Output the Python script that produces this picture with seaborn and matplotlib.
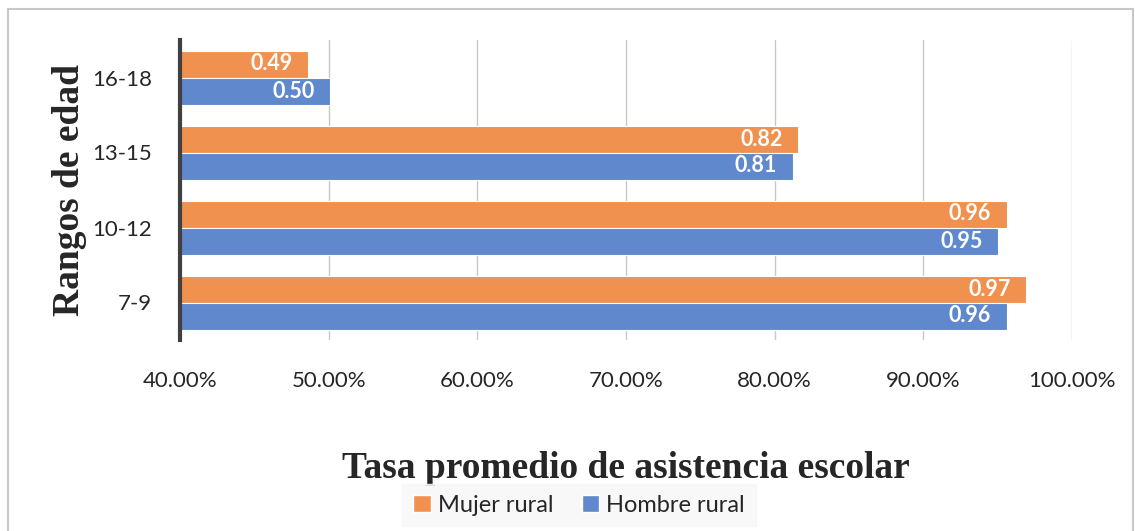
import matplotlib
matplotlib.use('Agg')
import matplotlib.pyplot as plt
import matplotlib.patches as mpatches
from matplotlib.ticker import FuncFormatter
import seaborn as sns
import pandas as pd

rangos = ['16-18', '13-15', '10-12', '7-9']
mujer = [0.486, 0.816, 0.956, 0.969]
hombre = [0.501, 0.812, 0.950, 0.956]
series = ['Mujer rural', 'Hombre rural']
colores = ['#F0914F', '#5F88CD']

df = pd.DataFrame({
    'rango': rangos * 2,
    'tasa': mujer + hombre,
    'grupo': [series[0]] * 4 + [series[1]] * 4,
})

sns.set_style('white')
plt.rcParams['font.family'] = ['Lato', 'DejaVu Sans']

fig = plt.figure(figsize=(11.35, 5.31), dpi=100)
ax = fig.add_axes([180/1135, 1-340/531, 892/1135, 300/531])

sns.barplot(data=df, x='tasa', y='rango', hue='grupo', order=rangos,
            hue_order=series, palette=colores, orient='h', width=0.72,
            edgecolor='white', linewidth=0.8, saturation=1, ax=ax)

ax.set_xlim(0.4, 1.0)
ax.set_ylim(3.5, -0.5)
ax.set_xticks([0.4, 0.5, 0.6, 0.7, 0.8, 0.9, 1.0])
ax.xaxis.set_major_formatter(FuncFormatter(lambda v, p: f'{v*100:.2f}%'))
ax.tick_params(axis='x', length=0, pad=22, labelsize=16)
ax.tick_params(axis='y', length=0, pad=20, labelsize=16)
ax.grid(axis='x', color='#C8C8C8', linewidth=1)
ax.set_axisbelow(True)
for s in ['top', 'right', 'bottom']:
    ax.spines[s].set_visible(False)
ax.spines['left'].set_color('#404040')
ax.spines['left'].set_linewidth(3)
ax.spines['left'].set_zorder(5)

for cont in ax.containers:
    for bar, v in zip(cont, cont.datavalues):
        ax.annotate(f'{v:.2f}', xy=(bar.get_x() + bar.get_width(),
                                    bar.get_y() + bar.get_height() / 2),
                    xytext=(-11, 0), textcoords='offset points',
                    ha='right', va='center', color='white',
                    fontsize=15.5, fontweight='bold')

ax.set_xlabel('')
ax.set_ylabel('Rangos de edad', family='Liberation Serif', fontweight='bold',
              fontsize=27, labelpad=4)
ax.get_legend().remove()

fig.text(626/1135, 1-468/531, 'Tasa promedio de asistencia escolar',
         family='Liberation Serif', fontweight='bold', fontsize=27,
         ha='center', va='center')

handles = [mpatches.Patch(facecolor=c, edgecolor='white', label=l)
           for c, l in zip(colores, series)]
leg = fig.legend(handles=handles, loc='upper center', ncol=2,
                 bbox_to_anchor=(579/1135, 1-484/531), frameon=True,
                 fontsize=17, handlelength=0.75, handleheight=0.75,
                 handletextpad=0.3, columnspacing=1.2, borderpad=0.45,
                 borderaxespad=0)
leg.get_frame().set_facecolor('#F7F7F7')
leg.get_frame().set_edgecolor('#F7F7F7')
leg.get_frame().set_alpha(0.85)
leg.get_frame().set_boxstyle('square', pad=0.0)

fig.patches.append(mpatches.Rectangle((8/1135, -0.05), 1125/1135, 1.05-9/531,
                                      transform=fig.transFigure, fill=False,
                                      edgecolor='#C8C8C8', linewidth=1.5))

plt.savefig('out.png', dpi=100)
